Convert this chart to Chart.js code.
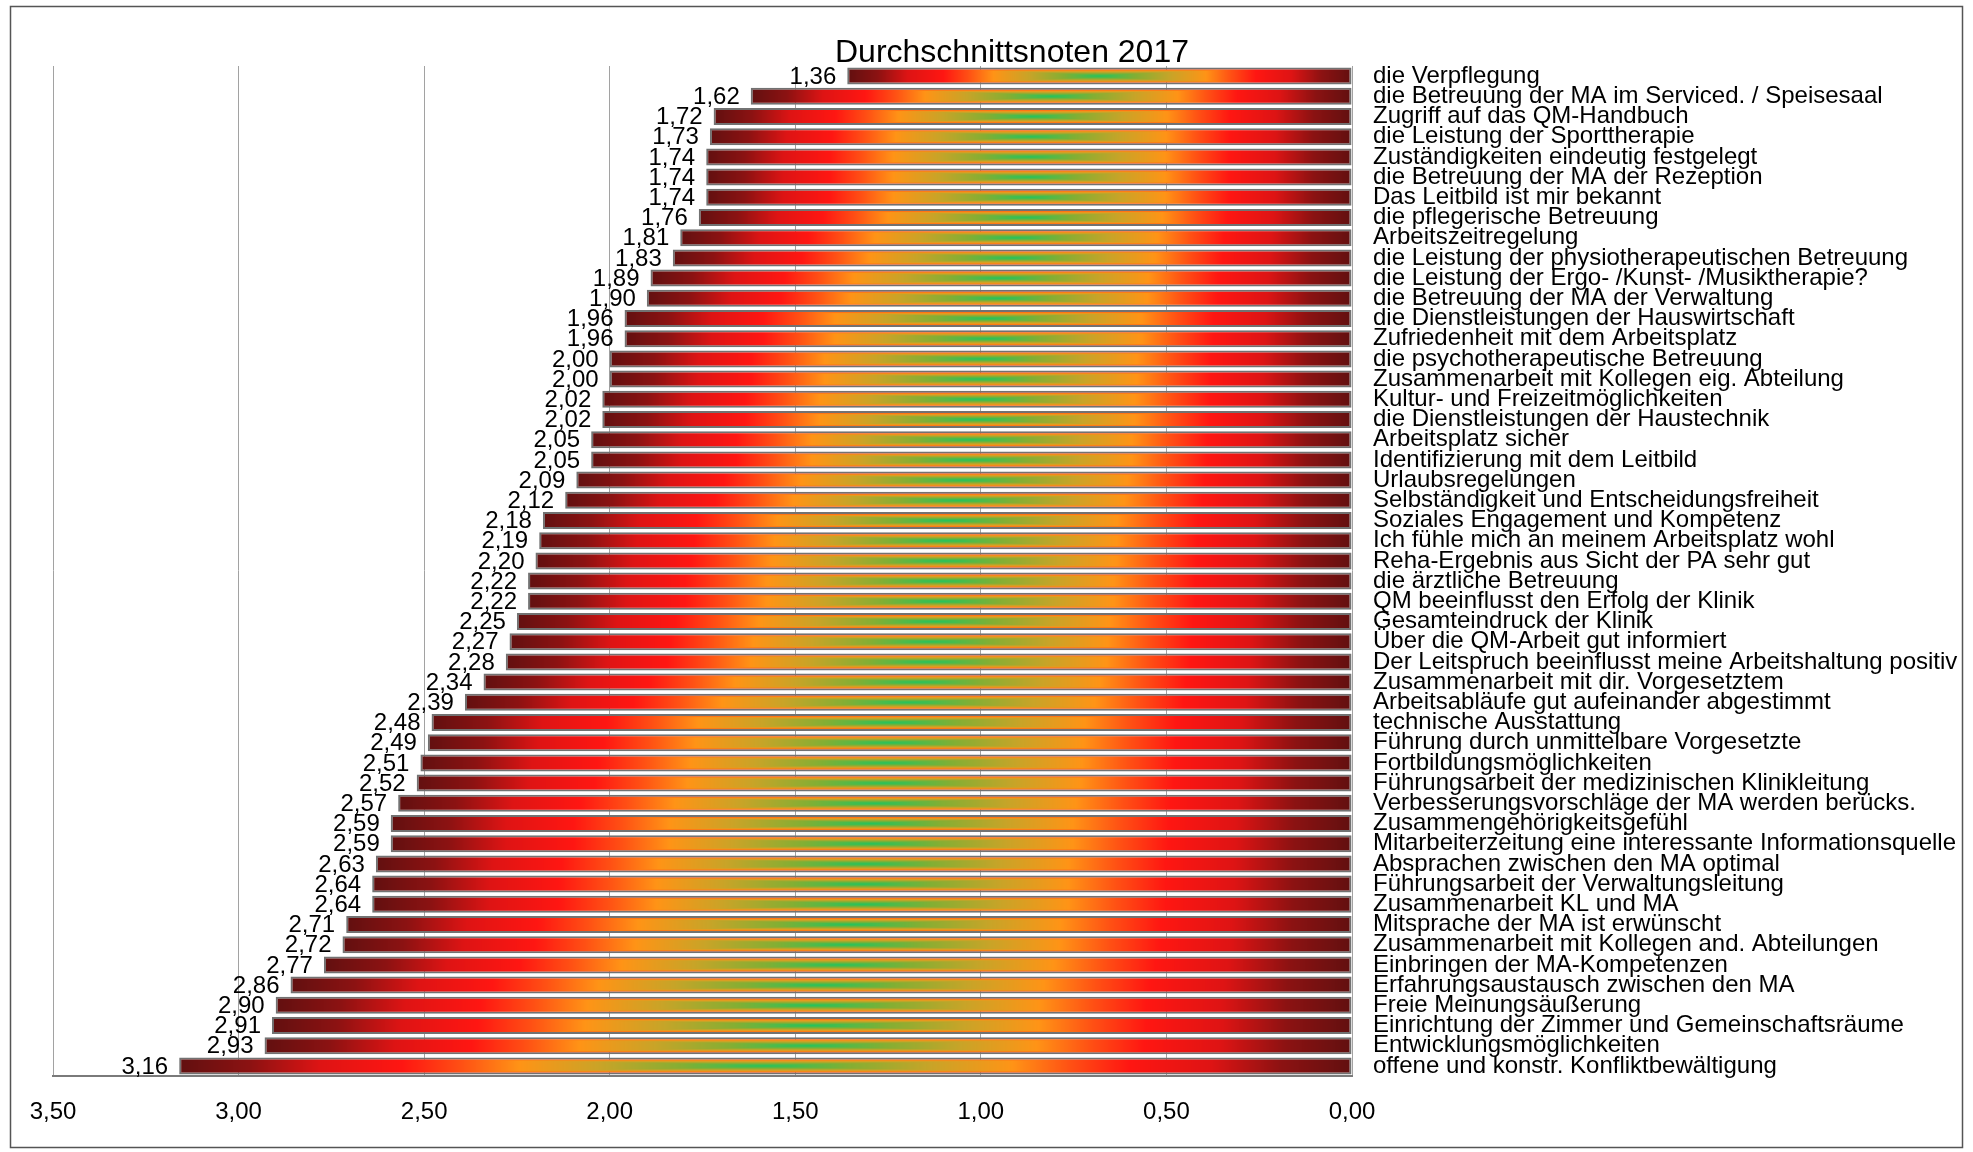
<!DOCTYPE html>
<html>
<head>
<meta charset="utf-8">
<script src="https://cdn.jsdelivr.net/npm/chart.js@4/dist/chart.umd.min.js"></script>
<style>
	html, body { margin: 0; padding: 0; background: #ffffff; }
	#wrap { width: 1973px; height: 1152px; }
</style>
</head>
<body>
<div id="wrap"><canvas id="notes"></canvas></div>
<script>
//
// Données : libellés des questions et notes moyennes (de haut en bas).
//
const categories = [
	"die Verpflegung",
	"die Betreuung der MA im Serviced. / Speisesaal",
	"Zugriff auf das QM-Handbuch",
	"die Leistung der Sporttherapie",
	"Zuständigkeiten eindeutig festgelegt",
	"die Betreuung der MA der Rezeption",
	"Das Leitbild ist mir bekannt",
	"die pflegerische Betreuung",
	"Arbeitszeitregelung",
	"die Leistung der physiotherapeutischen Betreuung",
	"die Leistung der Ergo- /Kunst- /Musiktherapie?",
	"die Betreuung der MA der Verwaltung",
	"die Dienstleistungen der Hauswirtschaft",
	"Zufriedenheit mit dem Arbeitsplatz",
	"die psychotherapeutische Betreuung",
	"Zusammenarbeit mit Kollegen eig. Abteilung",
	"Kultur- und Freizeitmöglichkeiten",
	"die Dienstleistungen der Haustechnik",
	"Arbeitsplatz sicher",
	"Identifizierung mit dem Leitbild",
	"Urlaubsregelungen",
	"Selbständigkeit und Entscheidungsfreiheit",
	"Soziales Engagement und Kompetenz",
	"Ich fühle mich an meinem Arbeitsplatz wohl",
	"Reha-Ergebnis aus Sicht der PA sehr gut",
	"die ärztliche Betreuung",
	"QM beeinflusst den Erfolg der Klinik",
	"Gesamteindruck der Klinik",
	"Über die QM-Arbeit gut informiert",
	"Der Leitspruch beeinflusst meine Arbeitshaltung positiv",
	"Zusammenarbeit mit dir. Vorgesetztem",
	"Arbeitsabläufe gut aufeinander abgestimmt",
	"technische Ausstattung",
	"Führung durch unmittelbare Vorgesetzte",
	"Fortbildungsmöglichkeiten",
	"Führungsarbeit der medizinischen Klinikleitung",
	"Verbesserungsvorschläge der MA werden berücks.",
	"Zusammengehörigkeitsgefühl",
	"Mitarbeiterzeitung eine interessante Informationsquelle",
	"Absprachen zwischen den MA optimal",
	"Führungsarbeit der Verwaltungsleitung",
	"Zusammenarbeit KL und MA",
	"Mitsprache der MA ist erwünscht",
	"Zusammenarbeit mit Kollegen and. Abteilungen",
	"Einbringen der MA-Kompetenzen",
	"Erfahrungsaustausch zwischen den MA",
	"Freie Meinungsäußerung",
	"Einrichtung der Zimmer und Gemeinschaftsräume",
	"Entwicklungsmöglichkeiten",
	"offene und konstr. Konfliktbewältigung"
];

const notes = [
	1.36, 1.62, 1.72, 1.73, 1.74, 1.74, 1.74, 1.76, 1.81, 1.83,
	1.89, 1.90, 1.96, 1.96, 2.00, 2.00, 2.02, 2.02, 2.05, 2.05,
	2.09, 2.12, 2.18, 2.19, 2.20, 2.22, 2.22, 2.25, 2.27, 2.28,
	2.34, 2.39, 2.48, 2.49, 2.51, 2.52, 2.57, 2.59, 2.59, 2.63,
	2.64, 2.64, 2.71, 2.72, 2.77, 2.86, 2.90, 2.91, 2.93, 3.16
];

const axis_min = 0;
const axis_max = 3.5;
const axis_step = 0.5;
const chart_title = "Durchschnittsnoten 2017";

const font_family = "'Liberation Sans', Arial, sans-serif";
const bar_ratio = 0.84;

// Formatage à l'allemande (virgule décimale).
const format_note = ( value ) => Number( value ).toFixed( 2 ).replace( ".", "," );

//
// Dégradé « rectangulaire » des barres : vert au centre, puis jaune,
// 	orange, rouge et rouge sombre sur les bords.
//
const color_stops = [
	[ 0.00, [ 36, 196, 92 ] ],
	[ 0.14, [ 130, 175, 52 ] ],
	[ 0.28, [ 200, 164, 40 ] ],
	[ 0.42, [ 255, 148, 22 ] ],
	[ 0.52, [ 255, 80, 20 ] ],
	[ 0.62, [ 255, 22, 18 ] ],
	[ 0.76, [ 222, 20, 20 ] ],
	[ 0.88, [ 140, 18, 18 ] ],
	[ 1.00, [ 98, 16, 16 ] ]
];

function stop_color( t )
{
	for ( let indice = 1; indice < color_stops.length; indice++ )
	{
		const [ t1, c1 ] = color_stops[ indice ];

		if ( t <= t1 )
		{
			const [ t0, c0 ] = color_stops[ indice - 1 ];
			const k = ( t - t0 ) / ( t1 - t0 );

			return c0.map( ( c, n ) => c + ( c1[ n ] - c ) * k );
		}
	}

	return color_stops[ color_stops.length - 1 ][ 1 ];
}

const pattern_cache = {};

function bar_fill( context )
{
	const chart = context.chart;
	const x_scale = chart.scales.x;
	const y_scale = chart.scales.y;

	if ( !x_scale || !y_scale || !x_scale.width )
	{
		return "#ff2010";
	}

	const left = x_scale.getPixelForValue( context.raw );
	const right = x_scale.getPixelForValue( 0 );
	const band = ( y_scale.bottom - y_scale.top ) / categories.length * bar_ratio;
	const top = y_scale.getPixelForValue( context.dataIndex ) - band / 2;

	const width = Math.max( 2, Math.round( right - left ) );
	const height = Math.max( 2, Math.round( band ) );
	const key = width + "x" + height;

	if ( !pattern_cache[ key ] )
	{
		const canvas = document.createElement( "canvas" );
		canvas.width = width;
		canvas.height = height;

		const ctx = canvas.getContext( "2d" );
		const image = ctx.createImageData( width, height );

		for ( let row = 0; row < height; row++ )
		{
			// Profil vertical plus doux : seuls les bords tirent vers le rouge.
			const dy = Math.abs( row + 0.5 - height / 2 ) / ( height / 2 );
			const ty = 0.72 * Math.pow( dy, 1.3 );

			for ( let col = 0; col < width; col++ )
			{
				const tx = Math.abs( col + 0.5 - width / 2 ) / ( width / 2 );
				const rgb = stop_color( Math.max( tx, ty ) );
				const offset = ( row * width + col ) * 4;

				image.data[ offset ] = rgb[ 0 ];
				image.data[ offset + 1 ] = rgb[ 1 ];
				image.data[ offset + 2 ] = rgb[ 2 ];
				image.data[ offset + 3 ] = 255;
			}
		}

		ctx.putImageData( image, 0, 0 );
		pattern_cache[ key ] = canvas;
	}

	const pattern = chart.ctx.createPattern( pattern_cache[ key ], "repeat" );
	pattern.setTransform( new DOMMatrix( [ 1, 0, 0, 1, left, top ] ) );

	return pattern;
}

//
// Fond blanc, cadre extérieur et titre.
//
const frame_plugin = {
	id: "frame",
	beforeDraw( chart )
	{
		const ctx = chart.ctx;

		ctx.save();
		ctx.fillStyle = "#ffffff";
		ctx.fillRect( 0, 0, chart.width, chart.height );
		ctx.strokeStyle = "#555555";
		ctx.lineWidth = 1.5;
		ctx.strokeRect( 10.5, 6.5, 1952, 1141 );
		ctx.restore();
	},
	afterDraw( chart )
	{
		const ctx = chart.ctx;

		ctx.save();
		ctx.fillStyle = "#000000";
		ctx.font = "32px " + font_family;
		ctx.textAlign = "center";
		ctx.textBaseline = "middle";
		ctx.fillText( chart_title, 1012, 53 );
		ctx.restore();
	}
};

//
// Étiquettes de valeur à gauche de chaque barre.
//
const value_plugin = {
	id: "values",
	afterDatasetsDraw( chart )
	{
		const ctx = chart.ctx;
		const meta = chart.getDatasetMeta( 0 );

		ctx.save();
		ctx.fillStyle = "#000000";
		ctx.font = "24px " + font_family;
		ctx.textAlign = "right";
		ctx.textBaseline = "middle";

		meta.data.forEach( ( bar, indice ) =>
		{
			ctx.fillText( format_note( notes[ indice ] ), bar.x - 11, bar.y + 1 );
		} );

		ctx.restore();
	}
};

new Chart( document.getElementById( "notes" ),
	{
		type: "bar",
		data: {
			labels: categories,
			datasets: [
				{
					data: notes,
					backgroundColor: bar_fill,
					borderColor: "#727272",
					borderWidth: 2,
					borderSkipped: false,
					barPercentage: bar_ratio,
					categoryPercentage: 1
				}
			]
		},
		options: {
			indexAxis: "y",
			responsive: true,
			maintainAspectRatio: false,
			animation: false,
			events: [],
			layout: {
				padding: { top: 66, left: 53, right: 0, bottom: 0 }
			},
			plugins: {
				legend: { display: false },
				title: { display: false },
				tooltip: { enabled: false }
			},
			scales: {
				x: {
					// Axe X inversé : 3,50 à gauche, 0,00 à droite.
					reverse: true,
					min: axis_min,
					max: axis_max,
					afterFit: ( scale ) => { scale.height = 76; },
					grid: {
						color: "#a2a2a2",
						lineWidth: 1,
						drawTicks: false
					},
					border: {
						display: true,
						color: "#7a7a7a",
						width: 2
					},
					ticks: {
						stepSize: axis_step,
						color: "#000000",
						padding: 22,
						maxRotation: 0,
						font: { size: 24, family: font_family },
						callback: ( value ) => format_note( value )
					}
				},
				y: {
					// Libellés des questions à droite du graphique.
					position: "right",
					afterFit: ( scale ) => { scale.width = 621; },
					grid: { display: false },
					border: { display: false },
					ticks: {
						color: "#000000",
						padding: 13,
						autoSkip: false,
						font: { size: 24, family: font_family, lineHeight: 1 }
					}
				}
			}
		},
		plugins: [ frame_plugin, value_plugin ]
	} );
</script>
</body>
</html>
